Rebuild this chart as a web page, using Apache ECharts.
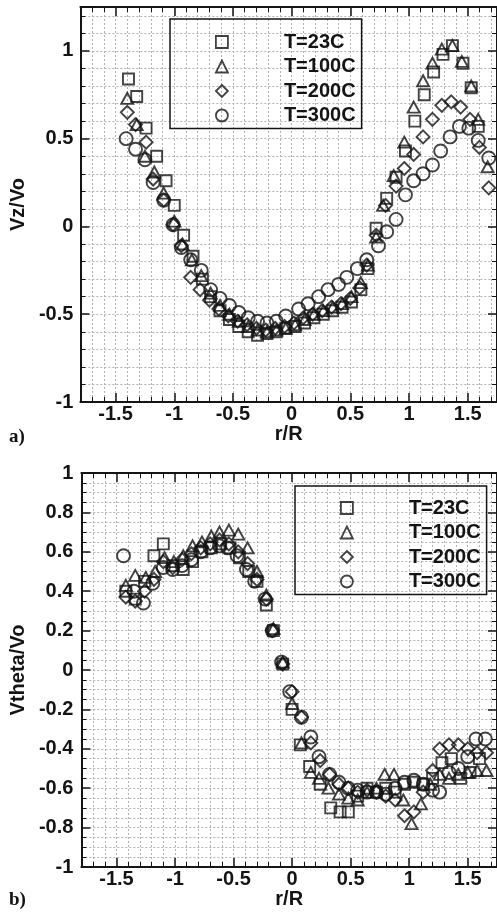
<!DOCTYPE html>
<html>
<head>
<meta charset="utf-8">
<title>Vz/Vo and Vtheta/Vo vs r/R</title>
<script src="https://cdn.jsdelivr.net/npm/echarts@6.0.0/dist/echarts.min.js"></script>
<style>
  html, body { margin: 0; padding: 0; background: #fff; }
  #chart { width: 497px; height: 912px; }
</style>
</head>
<body>
<div id="chart"></div>
<script>
/* 图例名称 */
const tempNames = ['T=23C', 'T=100C', 'T=200C', 'T=300C']
const tempSymbols = ['rect', 'triangle', 'diamond', 'circle']
const tempSizes = [11, [12, 11], 13, 13]

/* a) 轴向速度 Vz/Vo，[r/R, Vz/Vo] */
const vz23 = [
  [-1.39, 0.84], [-1.32, 0.74], [-1.24, 0.56], [-1.15, 0.40], [-1.07, 0.26], [-1.00, 0.12],
  [-0.92, -0.05], [-0.84, -0.17], [-0.76, -0.30], [-0.69, -0.40], [-0.61, -0.48], [-0.53, -0.53],
  [-0.45, -0.57], [-0.37, -0.60], [-0.29, -0.62], [-0.21, -0.61], [-0.13, -0.60], [-0.05, -0.58],
  [0.03, -0.57], [0.11, -0.55], [0.19, -0.52], [0.27, -0.50], [0.35, -0.48], [0.43, -0.46],
  [0.51, -0.43], [0.59, -0.36], [0.65, -0.24], [0.72, -0.01], [0.81, 0.16], [0.89, 0.28],
  [0.97, 0.43], [1.05, 0.60], [1.13, 0.75], [1.21, 0.88], [1.29, 0.98], [1.37, 1.03],
  [1.46, 0.93], [1.53, 0.79], [1.59, 0.57]
]
const vz100 = [
  [-1.40, 0.73], [-1.32, 0.58], [-1.25, 0.40], [-1.17, 0.31], [-1.09, 0.19], [-1.00, 0.03],
  [-0.93, -0.10], [-0.85, -0.19], [-0.77, -0.28], [-0.69, -0.38], [-0.61, -0.45], [-0.53, -0.50],
  [-0.45, -0.54], [-0.37, -0.57], [-0.29, -0.59], [-0.21, -0.60], [-0.13, -0.59], [-0.05, -0.58],
  [0.03, -0.56], [0.11, -0.53], [0.19, -0.50], [0.27, -0.48], [0.35, -0.46], [0.43, -0.44],
  [0.51, -0.40], [0.59, -0.32], [0.65, -0.22], [0.72, -0.06], [0.78, 0.12], [0.87, 0.29],
  [0.96, 0.48], [1.04, 0.68], [1.12, 0.83], [1.20, 0.93], [1.28, 1.01], [1.37, 1.03],
  [1.45, 0.94], [1.53, 0.80], [1.59, 0.61], [1.67, 0.34]
]
const vz200 = [
  [-1.40, 0.65], [-1.33, 0.58], [-1.24, 0.48], [-1.18, 0.27], [-1.09, 0.15], [-1.01, 0.01],
  [-0.94, -0.11], [-0.86, -0.29], [-0.78, -0.36], [-0.70, -0.42], [-0.62, -0.47], [-0.54, -0.51],
  [-0.46, -0.54], [-0.38, -0.56], [-0.30, -0.58], [-0.22, -0.59], [-0.14, -0.58], [-0.06, -0.57],
  [0.02, -0.55], [0.10, -0.52], [0.18, -0.50], [0.26, -0.48], [0.34, -0.46], [0.42, -0.44],
  [0.50, -0.41], [0.58, -0.35], [0.64, -0.22], [0.72, -0.05], [0.80, 0.12], [0.89, 0.23],
  [0.96, 0.33], [1.04, 0.41], [1.12, 0.51], [1.20, 0.61], [1.28, 0.69], [1.36, 0.71],
  [1.44, 0.68], [1.52, 0.61], [1.60, 0.45], [1.68, 0.22]
]
const vz300 = [
  [-1.41, 0.50], [-1.33, 0.44], [-1.25, 0.38], [-1.18, 0.25], [-1.09, 0.15], [-1.01, 0.01],
  [-0.94, -0.12], [-0.86, -0.19], [-0.77, -0.25], [-0.69, -0.36], [-0.61, -0.41], [-0.53, -0.45],
  [-0.45, -0.49], [-0.37, -0.52], [-0.29, -0.54], [-0.21, -0.55], [-0.13, -0.54], [-0.05, -0.51],
  [0.06, -0.47], [0.14, -0.44], [0.23, -0.40], [0.31, -0.36], [0.40, -0.33], [0.47, -0.29],
  [0.56, -0.24], [0.64, -0.19], [0.74, -0.11], [0.81, -0.03], [0.89, 0.04], [0.97, 0.18],
  [1.04, 0.26], [1.12, 0.30], [1.20, 0.35], [1.27, 0.43], [1.35, 0.51], [1.43, 0.57],
  [1.51, 0.56], [1.59, 0.49], [1.68, 0.39]
]

/* b) 周向速度 Vtheta/Vo，[r/R, Vtheta/Vo] */
const vt23 = [
  [-1.42, 0.40], [-1.34, 0.36], [-1.26, 0.45], [-1.18, 0.58], [-1.10, 0.64], [-1.02, 0.53],
  [-0.93, 0.51], [-0.85, 0.55], [-0.77, 0.60], [-0.69, 0.62], [-0.61, 0.64], [-0.53, 0.62],
  [-0.45, 0.57], [-0.37, 0.50], [-0.30, 0.45], [-0.22, 0.33], [-0.16, 0.20], [-0.08, 0.03],
  [0.00, -0.20], [0.07, -0.38], [0.15, -0.49], [0.24, -0.58], [0.33, -0.70], [0.41, -0.72],
  [0.48, -0.72], [0.56, -0.64], [0.64, -0.60], [0.72, -0.62], [0.80, -0.60], [0.88, -0.62],
  [0.96, -0.58], [1.04, -0.57], [1.12, -0.58], [1.20, -0.55], [1.28, -0.47], [1.36, -0.45],
  [1.44, -0.55], [1.52, -0.52], [1.60, -0.45]
]
const vt100 = [
  [-1.42, 0.43], [-1.34, 0.48], [-1.25, 0.47], [-1.17, 0.50], [-1.09, 0.57], [-1.01, 0.55],
  [-0.93, 0.58], [-0.85, 0.63], [-0.77, 0.65], [-0.69, 0.68], [-0.62, 0.70], [-0.54, 0.71],
  [-0.46, 0.69], [-0.38, 0.62], [-0.30, 0.50], [-0.22, 0.38], [-0.16, 0.21], [-0.08, 0.04],
  [0.00, -0.17], [0.08, -0.37], [0.16, -0.52], [0.23, -0.55], [0.31, -0.60], [0.40, -0.63],
  [0.48, -0.65], [0.56, -0.66], [0.64, -0.62], [0.72, -0.60], [0.79, -0.53], [0.87, -0.53],
  [0.95, -0.66], [1.02, -0.78], [1.10, -0.68], [1.18, -0.58], [1.26, -0.53], [1.34, -0.55],
  [1.42, -0.53], [1.50, -0.52], [1.58, -0.51], [1.66, -0.51]
]
const vt200 = [
  [-1.42, 0.37], [-1.34, 0.35], [-1.26, 0.40], [-1.18, 0.46], [-1.10, 0.55], [-1.02, 0.52],
  [-0.94, 0.56], [-0.86, 0.59], [-0.78, 0.62], [-0.70, 0.64], [-0.62, 0.66], [-0.54, 0.64],
  [-0.46, 0.60], [-0.38, 0.54], [-0.30, 0.46], [-0.22, 0.36], [-0.17, 0.20], [-0.08, 0.03],
  [0.00, -0.11], [0.08, -0.24], [0.16, -0.37], [0.24, -0.46], [0.32, -0.53], [0.40, -0.58],
  [0.48, -0.60], [0.56, -0.62], [0.64, -0.61], [0.72, -0.62], [0.80, -0.64], [0.88, -0.66],
  [0.96, -0.74], [1.04, -0.72], [1.12, -0.62], [1.20, -0.51], [1.26, -0.40], [1.34, -0.38],
  [1.42, -0.38], [1.50, -0.40], [1.58, -0.42], [1.66, -0.42]
]
const vt300 = [
  [-1.44, 0.58], [-1.35, 0.40], [-1.27, 0.34], [-1.19, 0.44], [-1.10, 0.52], [-1.02, 0.51],
  [-0.94, 0.53], [-0.86, 0.56], [-0.78, 0.60], [-0.70, 0.62], [-0.62, 0.63], [-0.55, 0.62],
  [-0.47, 0.58], [-0.39, 0.51], [-0.32, 0.45], [-0.23, 0.36], [-0.17, 0.20], [-0.09, 0.04],
  [-0.02, -0.11], [0.08, -0.24], [0.16, -0.34], [0.23, -0.44], [0.32, -0.53], [0.40, -0.57],
  [0.48, -0.60], [0.56, -0.61], [0.64, -0.62], [0.72, -0.62], [0.80, -0.63], [0.88, -0.60],
  [0.96, -0.57], [1.04, -0.56], [1.12, -0.58], [1.20, -0.61], [1.26, -0.62], [1.34, -0.52],
  [1.42, -0.50], [1.50, -0.44], [1.57, -0.35], [1.65, -0.35]
]

const FONT = 'Liberation Sans'
const INK = '#141414'
const gridLine = { show: true, lineStyle: { color: '#b2b2b2', width: 1, type: [2, 2] } }

// 坐标轴：带标签的主轴，或只画边框和刻度的对侧轴
function makeAxis(opt) {
  const frameOnly = !!opt.frameOnly
  return {
    type: 'value',
    gridIndex: opt.gridIndex,
    position: opt.position,
    min: opt.min,
    max: opt.max,
    interval: opt.interval,
    minInterval: opt.minInterval,
    maxInterval: opt.maxInterval,
    name: frameOnly ? '' : opt.name,
    nameLocation: 'middle',
    nameGap: opt.nameGap,
    nameTextStyle: { fontFamily: FONT, fontWeight: 'bold', fontSize: 20, color: INK },
    axisLine: { show: true, onZero: false, lineStyle: { color: INK, width: 2 } },
    axisTick: { show: true, inside: true, length: 9, lineStyle: { color: INK, width: 1.5 } },
    minorTick: { show: true, splitNumber: opt.minorSplit, length: 5, lineStyle: { color: INK, width: 1 } },
    axisLabel: {
      show: !frameOnly,
      margin: opt.labelMargin,
      showMinLabel: opt.showMin,
      showMaxLabel: !!opt.showMax,
      fontFamily: FONT,
      fontWeight: 'bold',
      fontSize: 20,
      color: INK
    },
    splitLine: frameOnly ? { show: false } : gridLine,
    minorSplitLine: frameOnly ? { show: false } : gridLine
  }
}

// 图例：带边框，行距约 24.5px
function makeLegend(left, top, padTop) {
  return {
    data: tempNames,
    orient: 'vertical',
    left: left,
    top: top,
    itemWidth: 12,
    itemHeight: 12,
    itemGap: 4.5,
    padding: [padTop, 6, 3, 45],
    borderColor: INK,
    borderWidth: 1.5,
    selectedMode: false,
    itemStyle: { color: 'rgba(0,0,0,0)', borderColor: INK, borderWidth: 1.8 },
    textStyle: { fontFamily: FONT, fontWeight: 'bold', fontSize: 20, color: INK, padding: [0, 0, 0, 51] }
  }
}

function makeSeries(dataList, axisIndex) {
  return dataList.map((data, i) => ({
    name: tempNames[i],
    type: 'scatter',
    xAxisIndex: axisIndex,
    yAxisIndex: axisIndex,
    symbol: tempSymbols[i],
    symbolSize: tempSizes[i],
    itemStyle: { color: 'rgba(0,0,0,0)', borderColor: INK, borderWidth: 1.9 },
    emphasis: { disabled: true },
    data: data
  }))
}

const chart = echarts.init(document.getElementById('chart'), null, { renderer: 'canvas' })
chart.setOption({
  backgroundColor: '#fff',
  animation: false,
  grid: [
    { left: 70, top: 7, width: 427, height: 395 },
    { left: 76, top: 473, width: 426, height: 394 }
  ],
  xAxis: [
    makeAxis({ gridIndex: 0, position: 'bottom', min: -1.8, max: 1.75, minInterval: 0.5, maxInterval: 0.5, name: 'r/R', nameGap: 20, minorSplit: 5, labelMargin: 2, showMin: false }),
    makeAxis({ gridIndex: 0, position: 'top', min: -1.8, max: 1.75, minInterval: 0.5, maxInterval: 0.5, minorSplit: 5, frameOnly: true }),
    makeAxis({ gridIndex: 1, position: 'bottom', min: -1.8, max: 1.75, minInterval: 0.5, maxInterval: 0.5, name: 'r/R', nameGap: 22, minorSplit: 5, labelMargin: 2, showMin: false }),
    makeAxis({ gridIndex: 1, position: 'top', min: -1.8, max: 1.75, minInterval: 0.5, maxInterval: 0.5, minorSplit: 5, frameOnly: true })
  ],
  yAxis: [
    makeAxis({ gridIndex: 0, position: 'left', min: -1, max: 1.25, interval: 0.5, name: 'Vz/Vo', nameGap: 30, minorSplit: 5, labelMargin: 7, showMin: true }),
    makeAxis({ gridIndex: 0, position: 'right', min: -1, max: 1.25, interval: 0.5, minorSplit: 5, frameOnly: true }),
    makeAxis({ gridIndex: 1, position: 'left', min: -1, max: 1, interval: 0.2, name: 'Vtheta/Vo', nameGap: 38, minorSplit: 4, labelMargin: 8, showMin: true, showMax: true }),
    makeAxis({ gridIndex: 1, position: 'right', min: -1, max: 1, interval: 0.2, minorSplit: 4, frameOnly: true })
  ],
  legend: [makeLegend(170, 19, 13), makeLegend(295, 486, 12)],
  /* 子图标号 */
  graphic: [
    { type: 'text', left: 9, top: 428, style: { text: 'a)', font: 'bold 19px "Liberation Serif"', fill: INK } },
    { type: 'text', left: 9, top: 891, style: { text: 'b)', font: 'bold 19px "Liberation Serif"', fill: INK } }
  ],
  series: makeSeries([vz23, vz100, vz200, vz300], 0).concat(makeSeries([vt23, vt100, vt200, vt300], 2))
})
</script>
</body>
</html>
